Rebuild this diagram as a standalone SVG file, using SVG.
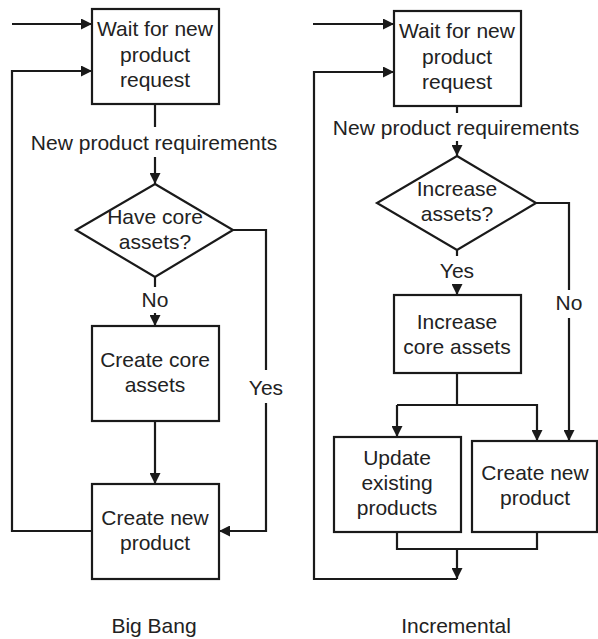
<svg xmlns="http://www.w3.org/2000/svg" width="598" height="639" viewBox="0 0 598 639">
<defs>
<marker id="ah" markerUnits="userSpaceOnUse" markerWidth="11" markerHeight="11" viewBox="0 0 11 11" refX="11" refY="5.5" orient="auto">
<path d="M0,0 L11,5.5 L0,11 Z" fill="#1a1a1a"/>
</marker>
</defs>
<style>
.n{fill:#fff;stroke:#1a1a1a;stroke-width:2.2}
.c{fill:none;stroke:#1a1a1a;stroke-width:2.2}
.a{marker-end:url(#ah)}
text{font-family:"Liberation Sans",Arial,sans-serif;font-size:21px;fill:#222;text-anchor:middle}
</style>
<rect width="598" height="639" fill="#fff"/>
<g id="connectors">
<path class="c a" d="M12,24 H92"/>
<path class="c a" d="M92,531 H12 V71 H92"/>
<path class="c" d="M155,104 V127"/>
<path class="c a" d="M155,157 V184"/>
<path class="c" d="M155,277 V287"/>
<path class="c a" d="M155,313 V326"/>
<path class="c a" d="M155,421 V484"/>
<path class="c" d="M233,230 H266 V370"/>
<path class="c a" d="M266,403 V531 H219"/>
<path class="c a" d="M313,24 H394"/>
<path class="c a" d="M457,579 H314 V72 H394"/>
<path class="c" d="M457,106 V113"/>
<path class="c a" d="M457,141 V156"/>
<path class="c" d="M457,250 V256"/>
<path class="c a" d="M457,284 V295"/>
<path class="c" d="M536,203 H569 V290"/>
<path class="c a" d="M569,318 V441"/>
<path class="c" d="M457,373 V405"/>
<path class="c a" d="M397,405 V437"/>
<path class="c a" d="M397,405 H537 V441"/>
<path class="c" d="M397,532 V549 H537 V532"/>
<path class="c a" d="M457,549 V579"/>
</g>
<g id="bb-wait">
<rect class="n" x="92" y="9" width="127" height="95"/>
<text x="155" y="36">Wait for new</text>
<text x="155" y="62">product</text>
<text x="155" y="87">request</text>
</g>
<g id="bb-req-label"><text x="154" y="150">New product requirements</text></g>
<g id="bb-decision">
<polygon class="n" points="155,184 233,230 155,277 76,230"/>
<text x="155" y="224">Have core</text>
<text x="155" y="249">assets?</text>
</g>
<g id="bb-no"><text x="155" y="307">No</text></g>
<g id="bb-yes"><text x="266" y="395">Yes</text></g>
<g id="bb-create-core">
<rect class="n" x="92" y="326" width="127" height="95"/>
<text x="155" y="367">Create core</text>
<text x="155" y="392">assets</text>
</g>
<g id="bb-create-new">
<rect class="n" x="92" y="484" width="127" height="95"/>
<text x="155" y="525">Create new</text>
<text x="155" y="550">product</text>
</g>
<g id="bb-title"><text x="154" y="633">Big Bang</text></g>
<g id="inc-wait">
<rect class="n" x="394" y="11" width="127" height="95"/>
<text x="457" y="38">Wait for new</text>
<text x="457" y="64">product</text>
<text x="457" y="89">request</text>
</g>
<g id="inc-req-label"><text x="456" y="135">New product requirements</text></g>
<g id="inc-decision">
<polygon class="n" points="457,156 536,203 457,250 377,203"/>
<text x="457" y="196">Increase</text>
<text x="457" y="221">assets?</text>
</g>
<g id="inc-yes"><text x="457" y="278">Yes</text></g>
<g id="inc-no"><text x="569" y="310">No</text></g>
<g id="inc-increase">
<rect class="n" x="394" y="295" width="127" height="78"/>
<text x="457" y="329">Increase</text>
<text x="457" y="354">core assets</text>
</g>
<g id="inc-update">
<rect class="n" x="334" y="437" width="127" height="95"/>
<text x="397" y="465">Update</text>
<text x="397" y="490">existing</text>
<text x="397" y="515">products</text>
</g>
<g id="inc-create-new">
<rect class="n" x="472" y="441" width="125" height="91"/>
<text x="535" y="480">Create new</text>
<text x="535" y="505">product</text>
</g>
<g id="inc-title"><text x="456" y="633">Incremental</text></g>
</svg>
